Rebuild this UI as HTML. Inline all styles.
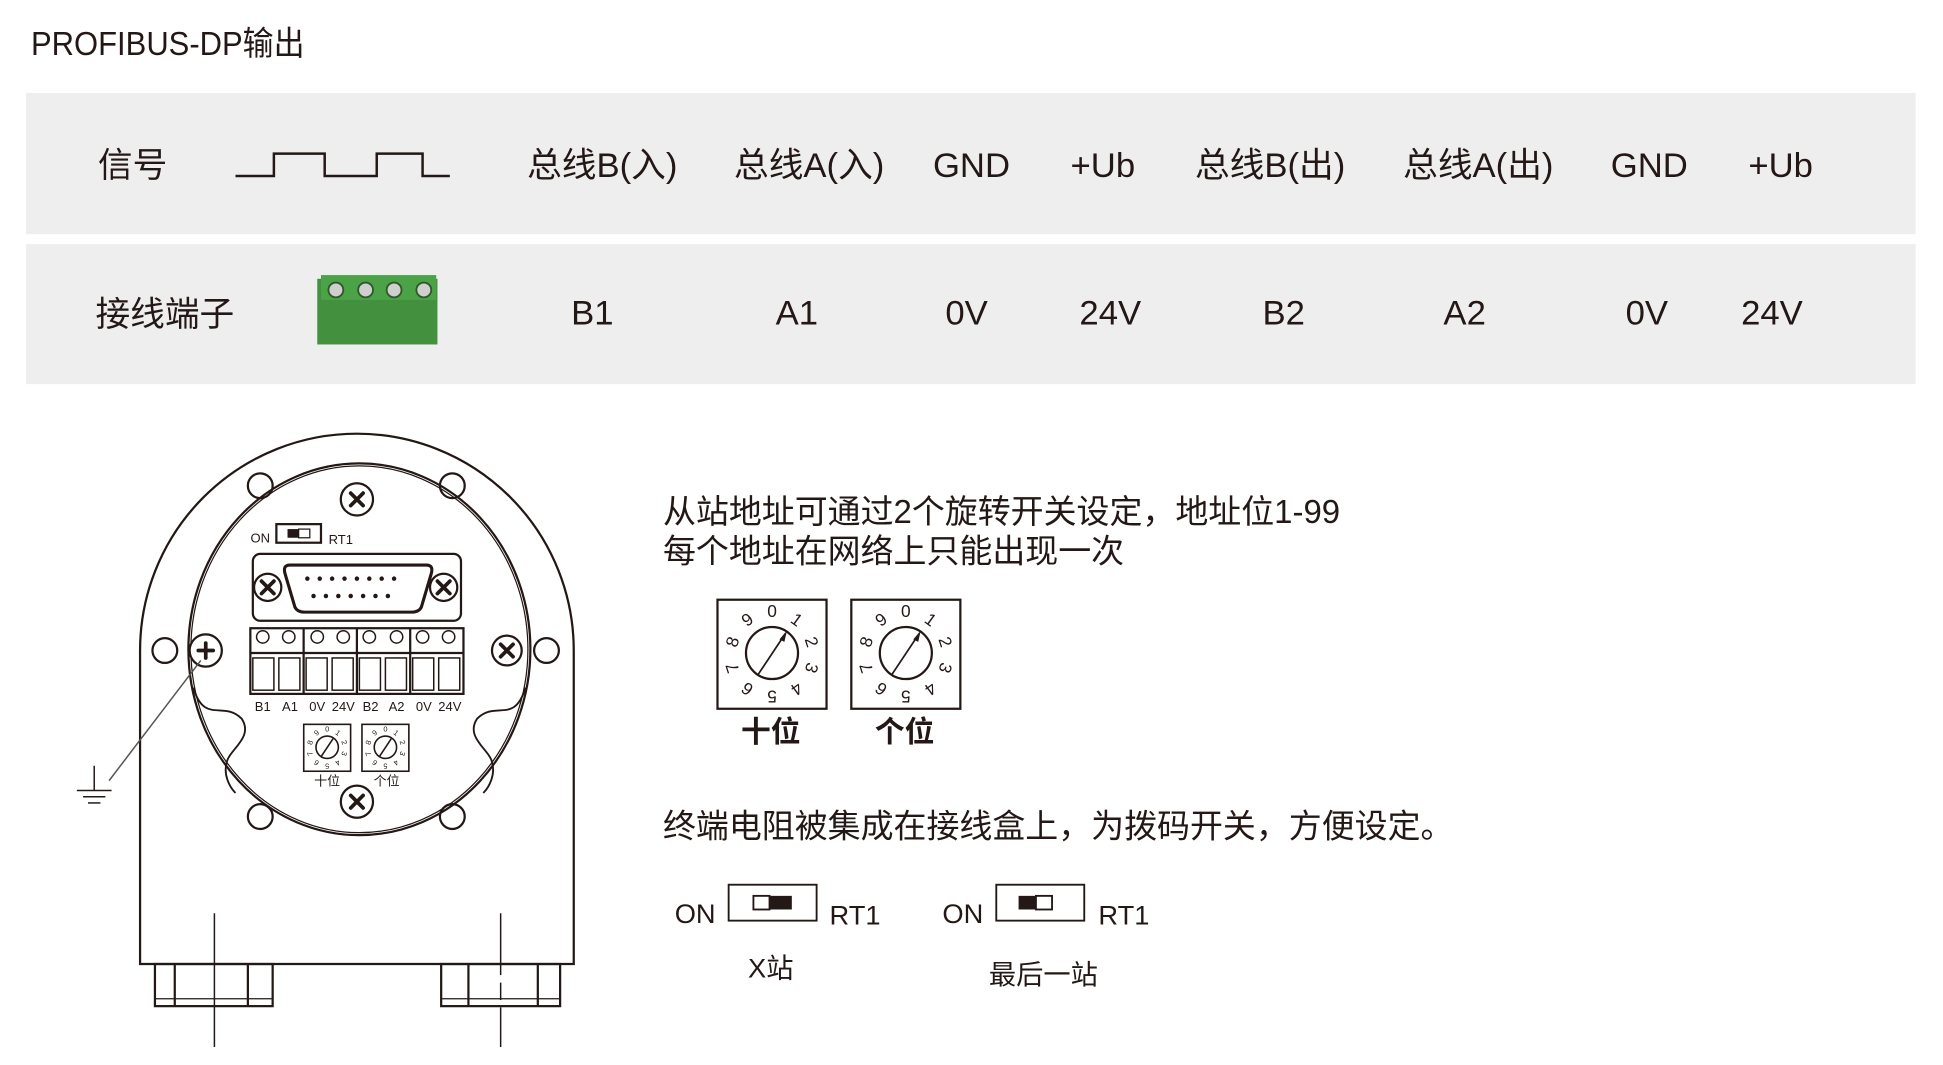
<!DOCTYPE html>
<html><head><meta charset="utf-8"><style>
html,body{margin:0;padding:0;background:#fff;width:1943px;height:1065px;overflow:hidden}
svg{display:block}
text{font-family:"Liberation Sans","Noto Sans CJK SC",sans-serif;fill:#231815}
</style></head><body>
<svg width="1943" height="1065" viewBox="0 0 1568 859.5" xmlns="http://www.w3.org/2000/svg">
<text x="25" y="44" font-size="25" transform="translate(25,0) scale(1,1.08) translate(-25,-3)">PROFIBUS-DP输出</text>
<rect x="21" y="75" width="1525" height="114" fill="#eeeeee"/>
<rect x="21" y="197" width="1525" height="113" fill="#eeeeee"/>
<g font-size="28" text-anchor="middle">
<text x="107" y="143">信号</text>
<text x="486" y="143">总线B(入)</text>
<text x="653" y="143">总线A(入)</text>
<text x="784" y="143">GND</text>
<text x="890" y="143">+Ub</text>
<text x="1025" y="143">总线B(出)</text>
<text x="1193" y="143">总线A(出)</text>
<text x="1331" y="143">GND</text>
<text x="1437" y="143">+Ub</text>
<text x="133" y="263">接线端子</text>
<text x="478" y="262">B1</text>
<text x="643" y="262">A1</text>
<text x="780" y="262">0V</text>
<text x="896" y="262">24V</text>
<text x="1036" y="262">B2</text>
<text x="1182" y="262">A2</text>
<text x="1329" y="262">0V</text>
<text x="1430" y="262">24V</text>
</g>
<polyline points="190,142 221,142 221,124 262,124 262,142 304,142 304,124 341,124 341,142 363,142" fill="none" stroke="#231815" stroke-width="2"/>
<rect x="256" y="225" width="97" height="53" fill="#43903f"/>
<rect x="259" y="222" width="93" height="20" fill="#4ca347"/>
<g fill="#cfcfcf" stroke="#2d5a2a" stroke-width="1.5"><circle cx="271" cy="234" r="6"/><circle cx="295" cy="234" r="6"/><circle cx="318" cy="234" r="6"/><circle cx="342" cy="234" r="6"/></g>

<!-- device -->
<g fill="none" stroke="#231815" stroke-width="1.8">
<path d="M113,525 A175,175 0 1,1 463,525 L463,778 L113,778 Z" fill="#fff"/>
<rect x="125" y="778" width="95" height="34"/>
<line x1="141" y1="778" x2="141" y2="812"/><line x1="200" y1="778" x2="200" y2="812"/>
<line x1="125" y1="806" x2="220" y2="806" stroke-width="1"/>
<rect x="356" y="778" width="96" height="34"/>
<line x1="378" y1="778" x2="378" y2="812"/><line x1="434" y1="778" x2="434" y2="812"/>
<line x1="356" y1="806" x2="452" y2="806" stroke-width="1"/>
<ellipse cx="290" cy="524" rx="138" ry="150"/>
<ellipse cx="290" cy="524" rx="136" ry="148" stroke-width="1"/>
<path d="M156,555 C165,585 180,565 195,580 C205,595 185,605 183,615 C180,625 185,635 190,640" stroke-width="1.5"/>
<path d="M424,555 C415,585 400,565 385,580 C375,595 395,605 397,615 C400,625 395,635 390,640" stroke-width="1.5"/>
<circle cx="210" cy="392" r="10"/><circle cx="365" cy="392" r="10"/>
<circle cx="133" cy="525" r="10"/><circle cx="441" cy="525" r="10"/>
<circle cx="210" cy="659" r="10"/><circle cx="365" cy="659" r="10"/>
<circle cx="288" cy="403" r="13" fill="#fff"/><circle cx="288" cy="647" r="13" fill="#fff"/>
<circle cx="166" cy="525" r="13" fill="#fff"/><circle cx="409" cy="525" r="12" fill="#fff"/>
<rect x="204" y="447" width="168" height="54" rx="6"/>
<path d="M234,456 L344,456 Q350,456 348,463 L340,490 Q338,494 332,494 L246,494 Q240,494 238,490 L230,463 Q228,456 234,456 Z" stroke-width="2.5"/>
<circle cx="216" cy="474" r="11"/><circle cx="358" cy="474" r="11"/>
<rect x="202" y="507" width="172" height="53"/>
<line x1="202" y1="527" x2="374" y2="527"/>
<line x1="245" y1="507" x2="245" y2="560"/><line x1="288" y1="507" x2="288" y2="560"/><line x1="331" y1="507" x2="331" y2="560"/>
<rect x="223" y="423" width="36" height="15"/>
<line x1="173" y1="737" x2="173" y2="845" stroke-width="1.2"/>
<line x1="404" y1="737" x2="404" y2="845" stroke-width="1.2" stroke-dasharray="50,6,14,6"/>
</g>
<g stroke="#231815" stroke-width="3" stroke-linecap="round">
<path d="M283,398 l10,10 M293,398 l-10,10"/><path d="M283,642 l10,10 M293,642 l-10,10"/>
<path d="M160,525 h12 M166,519 v12"/><path d="M404,520 l10,10 M414,520 l-10,10"/>
<path d="M211,469 l10,10 M221,469 l-10,10"/><path d="M353,469 l10,10 M363,469 l-10,10"/>
</g>
<rect x="232" y="427" width="9" height="7" fill="#231815"/><rect x="241" y="427" width="9" height="7" fill="none" stroke="#231815"/>
<g fill="none" stroke="#231815" stroke-width="1.2">
<rect x="204" y="531" width="17" height="26"/><rect x="225" y="531" width="17" height="26"/>
<rect x="247" y="531" width="17" height="26"/><rect x="268" y="531" width="17" height="26"/>
<rect x="290" y="531" width="17" height="26"/><rect x="311" y="531" width="17" height="26"/>
<rect x="333" y="531" width="17" height="26"/><rect x="354" y="531" width="17" height="26"/>
<circle cx="212" cy="514" r="5"/><circle cx="233" cy="514" r="5"/><circle cx="256" cy="514" r="5"/><circle cx="277" cy="514" r="5"/>
<circle cx="298" cy="514" r="5"/><circle cx="320" cy="514" r="5"/><circle cx="341" cy="514" r="5"/><circle cx="362" cy="514" r="5"/>
</g>
<g fill="#231815">
<circle cx="248" cy="467" r="1.8"/><circle cx="258" cy="467" r="1.8"/><circle cx="268" cy="467" r="1.8"/><circle cx="278" cy="467" r="1.8"/><circle cx="288" cy="467" r="1.8"/><circle cx="298" cy="467" r="1.8"/><circle cx="308" cy="467" r="1.8"/><circle cx="318" cy="467" r="1.8"/>
<circle cx="253" cy="481" r="1.8"/><circle cx="263" cy="481" r="1.8"/><circle cx="273" cy="481" r="1.8"/><circle cx="283" cy="481" r="1.8"/><circle cx="293" cy="481" r="1.8"/><circle cx="303" cy="481" r="1.8"/><circle cx="313" cy="481" r="1.8"/>
</g>
<g font-size="10.5" text-anchor="middle">
<text x="210" y="438">ON</text><text x="275" y="439">RT1</text>
<text x="212" y="574">B1</text><text x="234" y="574">A1</text><text x="256" y="574">0V</text><text x="277" y="574">24V</text>
<text x="299" y="574">B2</text><text x="320" y="574">A2</text><text x="342" y="574">0V</text><text x="363" y="574">24V</text>
<text x="264" y="634">十位</text><text x="312" y="634">个位</text>
</g>
<line x1="162" y1="533" x2="88" y2="630" stroke="#555" stroke-width="1.2"/>
<g stroke="#231815" stroke-width="1.2"><line x1="76" y1="618" x2="76" y2="638"/><line x1="62" y1="638" x2="90" y2="638"/><line x1="67" y1="643" x2="85" y2="643"/><line x1="71" y1="648" x2="81" y2="648"/></g>

<g transform="translate(623,528)">
<rect x="-44" y="-44" width="88" height="88" fill="none" stroke="#231815" stroke-width="1.8"/>
<circle cx="0" cy="-1" r="21" fill="none" stroke="#231815" stroke-width="1.8"/>
<line x1="-11" y1="16" x2="11" y2="-17" stroke="#231815" stroke-width="1.4"/><path d="M12,-19 L6,-12 L10,-10 Z" fill="#231815"/>
<g font-size="14" text-anchor="middle" dominant-baseline="central">
<text transform="translate(0,-35)">0</text><text transform="translate(20,-28) rotate(36)">1</text><text transform="translate(32,-10) rotate(72)">2</text><text transform="translate(32,11) rotate(108)">3</text><text transform="translate(20,28) rotate(144)">4</text><text transform="translate(0,34) rotate(180)">5</text><text transform="translate(-20,28) rotate(216)">6</text><text transform="translate(-32,11) rotate(252)">7</text><text transform="translate(-32,-10) rotate(288)">8</text><text transform="translate(-20,-28) rotate(324)">9</text>
</g></g>
<g transform="translate(731,528)">
<rect x="-44" y="-44" width="88" height="88" fill="none" stroke="#231815" stroke-width="1.8"/>
<circle cx="0" cy="-1" r="21" fill="none" stroke="#231815" stroke-width="1.8"/>
<line x1="-11" y1="16" x2="11" y2="-17" stroke="#231815" stroke-width="1.4"/><path d="M12,-19 L6,-12 L10,-10 Z" fill="#231815"/>
<g font-size="14" text-anchor="middle" dominant-baseline="central">
<text transform="translate(0,-35)">0</text><text transform="translate(20,-28) rotate(36)">1</text><text transform="translate(32,-10) rotate(72)">2</text><text transform="translate(32,11) rotate(108)">3</text><text transform="translate(20,28) rotate(144)">4</text><text transform="translate(0,34) rotate(180)">5</text><text transform="translate(-20,28) rotate(216)">6</text><text transform="translate(-32,11) rotate(252)">7</text><text transform="translate(-32,-10) rotate(288)">8</text><text transform="translate(-20,-28) rotate(324)">9</text>
</g></g>
<g transform="translate(264,603.5) scale(0.43)">
<rect x="-44" y="-44" width="88" height="88" fill="none" stroke="#231815" stroke-width="3"/>
<circle cx="0" cy="-1" r="21" fill="none" stroke="#231815" stroke-width="3"/>
<line x1="-11" y1="16" x2="11" y2="-17" stroke="#231815" stroke-width="3"/>
<g font-size="14" text-anchor="middle" dominant-baseline="central">
<text transform="translate(0,-35)">0</text><text transform="translate(20,-28) rotate(36)">1</text><text transform="translate(32,-10) rotate(72)">2</text><text transform="translate(32,11) rotate(108)">3</text><text transform="translate(20,28) rotate(144)">4</text><text transform="translate(0,34) rotate(180)">5</text><text transform="translate(-20,28) rotate(216)">6</text><text transform="translate(-32,11) rotate(252)">7</text><text transform="translate(-32,-10) rotate(288)">8</text><text transform="translate(-20,-28) rotate(324)">9</text>
</g></g>
<g transform="translate(311,603.5) scale(0.43)">
<rect x="-44" y="-44" width="88" height="88" fill="none" stroke="#231815" stroke-width="3"/>
<circle cx="0" cy="-1" r="21" fill="none" stroke="#231815" stroke-width="3"/>
<line x1="-11" y1="16" x2="11" y2="-17" stroke="#231815" stroke-width="3"/>
<g font-size="14" text-anchor="middle" dominant-baseline="central">
<text transform="translate(0,-35)">0</text><text transform="translate(20,-28) rotate(36)">1</text><text transform="translate(32,-10) rotate(72)">2</text><text transform="translate(32,11) rotate(108)">3</text><text transform="translate(20,28) rotate(144)">4</text><text transform="translate(0,34) rotate(180)">5</text><text transform="translate(-20,28) rotate(216)">6</text><text transform="translate(-32,11) rotate(252)">7</text><text transform="translate(-32,-10) rotate(288)">8</text><text transform="translate(-20,-28) rotate(324)">9</text>
</g></g>

<g font-size="26.6">
<text x="535" y="422">从站地址可通过2个旋转开关设定，地址位1-99</text>
<text x="535" y="454">每个地址在网络上只能出现一次</text>
<text x="535" y="676">终端电阻被集成在接线盒上，为拨码开关，方便设定。</text>
</g>
<g font-size="24" font-weight="bold" text-anchor="middle">
<text x="622" y="599">十位</text><text x="730" y="599">个位</text>
</g>
<g font-size="22" text-anchor="middle">
<text x="561" y="745">ON</text><text x="690" y="746">RT1</text>
<text x="777" y="745">ON</text><text x="907" y="746">RT1</text>
<text x="622" y="789">X站</text><text x="842" y="794">最后一站</text>
</g>
<g fill="none" stroke="#231815" stroke-width="1.5">
<rect x="588" y="714" width="71" height="29"/>
<rect x="608" y="723" width="13" height="11"/>
<rect x="804" y="714" width="71" height="29"/>
<rect x="836" y="723" width="13" height="11"/>
</g>
<rect x="621" y="723" width="18" height="11" fill="#231815"/>
<rect x="822" y="723" width="14" height="11" fill="#231815"/>
</svg>
</body></html>
